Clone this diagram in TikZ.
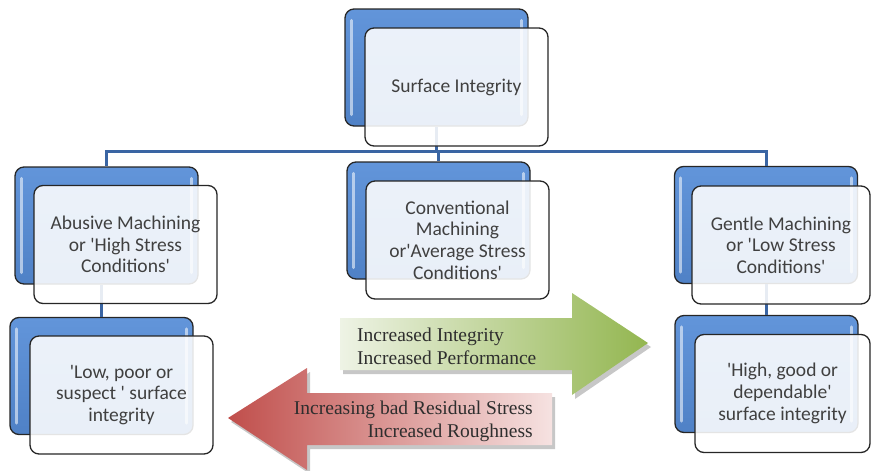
\documentclass[tikz,border=0pt]{standalone}
\usepackage{fontspec}
\setmainfont{Liberation Serif}
\newfontfamily\boxfont{Carlito}

\definecolor{backblue}{HTML}{4F81C6}
\definecolor{backbluetop}{HTML}{6295DA}
\definecolor{edge}{HTML}{262626}
\definecolor{busblue}{HTML}{3A65A3}
\definecolor{boxtext}{HTML}{404040}
\definecolor{greenL}{HTML}{EEF3E5}
\definecolor{greenR}{HTML}{93B650}
\definecolor{redL}{HTML}{C04E4B}
\definecolor{redR}{HTML}{F6E2E1}
\definecolor{arrowtext}{HTML}{2E2E2E}

\tikzset{
  backbox/.style={rectangle, rounded corners=9pt, draw=edge, line width=1.3pt,
    top color=backbluetop, bottom color=backblue,
    minimum width=183pt, minimum height=117pt, inner sep=0pt},
  frontbox/.style={rectangle, rounded corners=9pt, draw=edge, line width=1.3pt,
    fill=white, fill opacity=0.88, text opacity=1,
    minimum width=183pt, minimum height=118pt, inner sep=0pt,
    align=center, text=boxtext,
    font=\boxfont\fontsize{19.5}{21.7}\selectfont},
  highlight/.style={line width=3pt, line cap=round, draw=white, opacity=0.55},
  conn/.style={draw=busblue, line width=3pt},
  shadowshape/.style={fill=black, opacity=0.22},
  arrowlabel/.style={inner sep=0pt, text=arrowtext,
    font=\fontsize{19.5}{23}\selectfont}
}

\begin{document}
\begin{tikzpicture}[x=1pt, y=-1pt]
\useasboundingbox (0,0) rectangle (871,471);

% ---- back (blue) boxes ----
\node[backbox] (topb)   at (436.5,67.5) {};
\node[backbox] (leftb)  at (106.5,225.5) {};
\node[backbox] (midb)   at (438.5,220.5) {};
\node[backbox] (rightb) at (766,225) {};
\node[backbox] (llowb)  at (101.5,376) {};
\node[backbox] (rlowb)  at (766.5,374) {};

% bevel highlights on the left and right edges of each back box
\foreach \b in {topb,leftb,midb,rightb,llowb,rlowb}{
  \draw[highlight] ([xshift=7pt,yshift=-12pt]\b.north west) -- ([xshift=7pt,yshift=12pt]\b.south west);
  \draw[highlight] ([xshift=-7pt,yshift=-12pt]\b.north east) -- ([xshift=-7pt,yshift=12pt]\b.south east);
}

% ---- connectors (seen faintly through the glassy front boxes) ----
\coordinate (bus) at (0,151);
\draw[conn] (topb.south) -- (topb.south |- bus);
\draw[conn] (leftb.north) |- (rightb.north |- bus) -- (rightb.north);
\draw[conn] (midb.north |- bus) -- (midb.north);
\draw[conn] (llowb.center |- leftb.south) -- (llowb.north);
\draw[conn] (rlowb.center |- rightb.south) -- (rlowb.north);

% ---- front boxes with the labels ----
\node[frontbox] (top)   at (456.5,87)    {Surface Integrity};
\node[frontbox] (left)  at (125.5,244.5) {Abusive Machining\\or 'High Stress\\Conditions'};
\node[frontbox] (mid)   at (457.5,240)   {Conventional\\Machining\\or'Average Stress\\Conditions'};
\node[frontbox, minimum width=178pt] (right) at (781,245) {Gentle Machining\\or 'Low Stress\\Conditions'};
\node[frontbox] (llow)  at (121.5,395)   {'Low, poor or\\suspect ' surface\\integrity};
\node[frontbox, minimum width=175pt] (rlow) at (782.5,393.5) {'High, good or\\dependable'\\surface integrity};

% ---- green arrow (towards gentle machining) ----
\fill[shadowshape] (343,322) -- (575,322) -- (575,297) -- (651,347) -- (575,399) -- (575,374) -- (343,374) -- cycle;
\shade[left color=greenL, right color=greenR]
  (340,318) -- (572,318) -- (572,293) -- (648,343) -- (572,395) -- (572,370) -- (340,370) -- cycle;
\node[arrowlabel, anchor=west, align=left] (up) at (357,346.5)
  {Increased Integrity\\Increased Performance};

% ---- red arrow (towards abusive machining) ----
\fill[shadowshape] (555,397) -- (310,397) -- (310,372) -- (231,422) -- (310,474) -- (310,449) -- (555,449) -- cycle;
\shade[left color=redL, right color=redR]
  (552,393) -- (307,393) -- (307,368) -- (228,418) -- (307,470) -- (307,445) -- (552,445) -- cycle;
\node[arrowlabel, anchor=east, align=right] (down) at (533,421.5)
  {Increasing bad Residual Stress\\Increased Roughness};

\end{tikzpicture}
\end{document}
